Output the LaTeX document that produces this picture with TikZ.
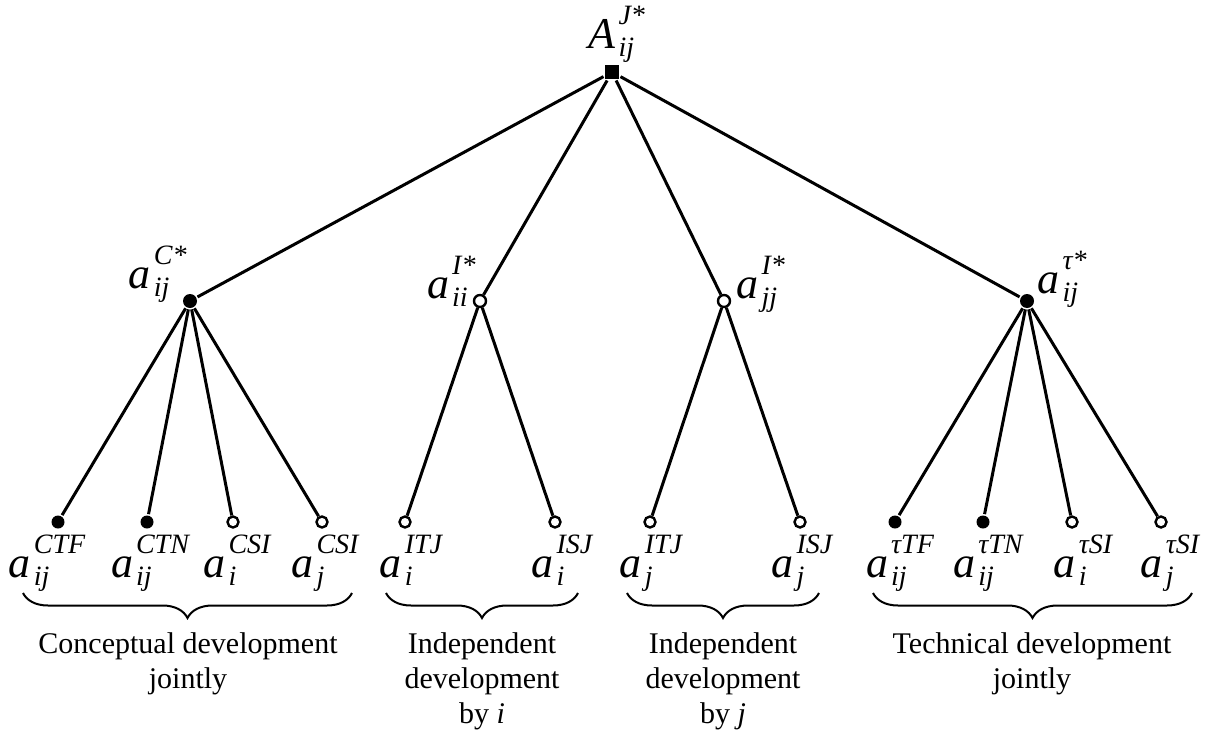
\documentclass[tikz,border=0pt]{standalone}
\usepackage{fontspec}
\setmainfont{Liberation Serif}
\usetikzlibrary{decorations.pathreplacing}
\newcommand{\lab}[3]{\textit{#1}\kern3pt\raisebox{-8pt}{\fontsize{28}{28}\selectfont\itshape
  \begin{tabular}[b]{@{}l@{}}#2\\[4pt]#3\end{tabular}}}

\tikzset{
  fdot/.style={circle,fill=black,inner sep=0pt,minimum size=13pt},
  odot/.style={circle,draw,fill=white,line width=2.4pt,inner sep=0pt,minimum size=11pt},
  sym/.style={font=\fontsize{44}{50}\selectfont,inner sep=0pt},
  grp/.style={font=\fontsize{30}{35}\selectfont,align=center,anchor=north,inner sep=0pt},
  brc/.style={decorate,decoration={brace,mirror,amplitude=25pt},line width=2pt}
}

\begin{document}
\begin{tikzpicture}[x=1pt,y=-1pt,line width=3pt]
    \useasboundingbox (0,0) rectangle (1212,736);

    \node[fill=black,inner sep=0pt,minimum size=14pt] (root) at (612,72) {};
    \node[sym,anchor=base west] (lroot) at (587,48) {\lab{A}{J*}{ij}};

    \node[fdot,minimum size=14pt] (C) at (190,301) {};
    \node[odot,minimum size=12pt] (Ii) at (480,301) {};
    \node[odot,minimum size=12pt] (Ij) at (724,301) {};
    \node[fdot,minimum size=14pt] (T) at (1027,301) {};
    \node[sym,anchor=base east] (lC) at (188,288) {\lab{a}{C*}{ij}};
    \node[sym,anchor=base east] (lIi) at (477,298) {\lab{a}{I*}{ii}};
    \node[sym,anchor=base west] (lIj) at (735,298) {\lab{a}{I*}{jj}};
    \node[sym,anchor=base west] (lT) at (1036,293) {\lab{a}{τ*}{ij}};

    \node[fdot] (CTF) at (58,522) {};
    \node[fdot] (CTN) at (147,522) {};
    \node[odot] (CSIi) at (233,522) {};
    \node[odot] (CSIj) at (322,522) {};
    \node[odot] (ITJi) at (405,522) {};
    \node[odot] (ISJi) at (555,522) {};
    \node[odot] (ITJj) at (650,522) {};
    \node[odot] (ISJj) at (800,522) {};
    \node[fdot] (TTF) at (895,522) {};
    \node[fdot] (TTN) at (983,522) {};
    \node[odot] (TSIi) at (1072,522) {};
    \node[odot] (TSIj) at (1161,522) {};

    \draw (root) -- (C);
    \draw (root) -- (Ii);
    \draw (root) -- (Ij);
    \draw (root) -- (T);
    \draw (C) -- (CTF);
    \draw (C) -- (CTN);
    \draw (C) -- (CSIi);
    \draw (C) -- (CSIj);
    \draw (Ii) -- (ITJi);
    \draw (Ii) -- (ISJi);
    \draw (Ij) -- (ITJj);
    \draw (Ij) -- (ISJj);
    \draw (T) -- (TTF);
    \draw (T) -- (TTN);
    \draw (T) -- (TSIi);
    \draw (T) -- (TSIj);

    \node[sym,anchor=base] (lCTF) at (47,577) {\lab{a}{CTF}{ij}};
    \node[sym,anchor=base] (lCTN) at (150,577) {\lab{a}{CTN}{ij}};
    \node[sym,anchor=base] (lCSIi) at (237,577) {\lab{a}{CSI}{i}};
    \node[sym,anchor=base] (lCSIj) at (325,577) {\lab{a}{CSI}{j}};
    \node[sym,anchor=base] (lITJi) at (411,577) {\lab{a}{ITJ}{i}};
    \node[sym,anchor=base] (lISJi) at (562,577) {\lab{a}{ISJ}{i}};
    \node[sym,anchor=base] (lITJj) at (651,577) {\lab{a}{ITJ}{j}};
    \node[sym,anchor=base] (lISJj) at (802,577) {\lab{a}{ISJ}{j}};
    \node[sym,anchor=base] (lTTF) at (900,577) {\lab{a}{τTF}{ij}};
    \node[sym,anchor=base] (lTTN) at (988,577) {\lab{a}{τTN}{ij}};
    \node[sym,anchor=base] (lTSIi) at (1083,577) {\lab{a}{τSI}{i}};
    \node[sym,anchor=base] (lTSIj) at (1170,577) {\lab{a}{τSI}{j}};

    \draw[brc] (23,593) -- (352,593);
    \draw[brc] (386,593) -- (578,593);
    \draw[brc] (627,593) -- (819,593);
    \draw[brc] (873,593) -- (1192,593);

    \node[grp] (tC) at (188,631) {Conceptual development\\jointly};
    \node[grp] (tI) at (482,631) {Independent\\development\\by \textit{i}};
    \node[grp] (tJ) at (723,631) {Independent\\development\\by \textit{j}};
    \node[grp] (tT) at (1032,631) {Technical development\\jointly};
  \end{tikzpicture}
\end{document}
